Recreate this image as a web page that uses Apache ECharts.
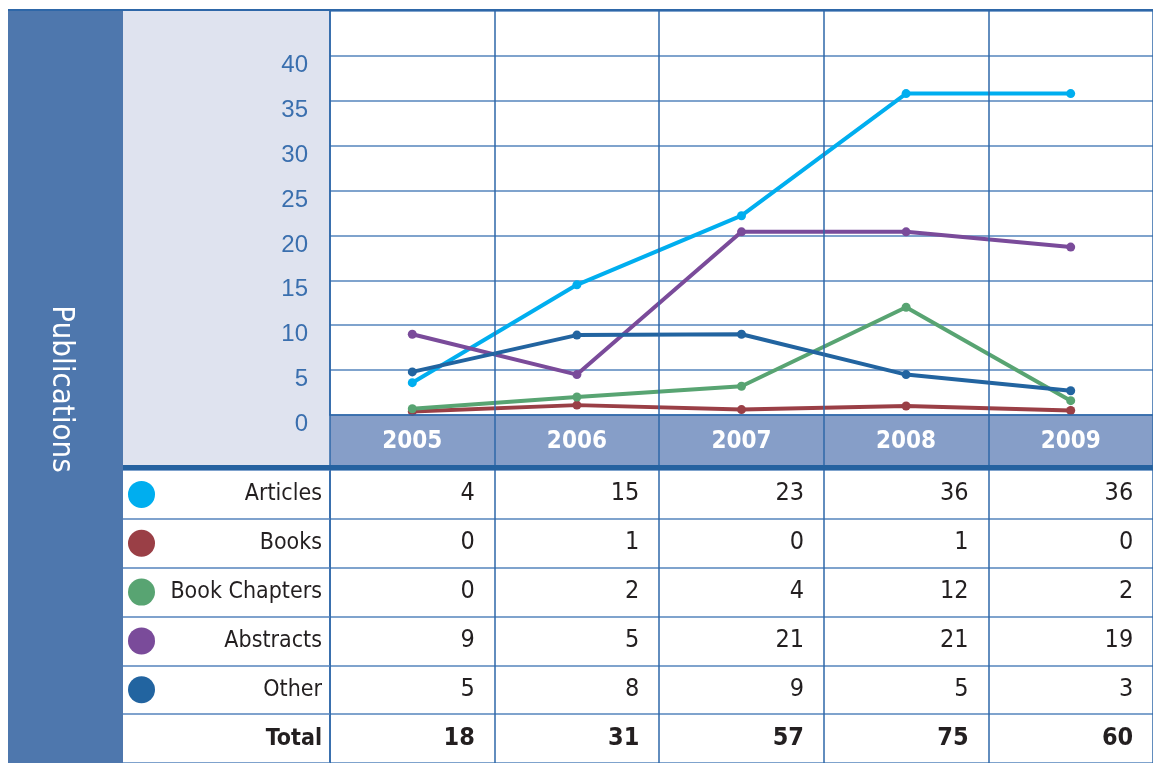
<!DOCTYPE html>
<html>
<head>
<meta charset="utf-8">
<script src="https://cdn.jsdelivr.net/npm/echarts@6/dist/echarts.min.js"></script>
<style>
  html, body { margin: 0; padding: 0; background: #fff; }
  #chart { width: 1153px; height: 763px; }
</style>
</head>
<body>
<div id="chart"></div>
<script>
// years along the top of the table
var years = ['2005', '2006', '2007', '2008', '2009'];
var rowNames = ['Articles', 'Books', 'Book Chapters', 'Abstracts', 'Other'];
var rowColors = ['#00aeef', '#9a3f46', '#58a472', '#7a4b9a', '#2264a0'];

// values as plotted in the line chart
var plotArticles = [3.6, 14.5, 22.2, 35.8, 35.8];
var plotBooks = [0.4, 1.1, 0.6, 1.0, 0.5];
var plotChapters = [0.7, 2.0, 3.2, 12.0, 1.6];
var plotAbstracts = [9.0, 4.5, 20.4, 20.4, 18.7];
var plotOther = [4.8, 8.9, 9.0, 4.5, 2.7];

// values printed in the table
var tabArticles = [4, 15, 23, 36, 36];
var tabBooks = [0, 1, 0, 1, 0];
var tabChapters = [0, 2, 4, 12, 2];
var tabAbstracts = [9, 5, 21, 21, 19];
var tabOther = [5, 8, 9, 5, 3];
var totals = [18, 31, 57, 75, 60];

var yTicks = [0, 45, 5]; // min, max, step

var FONT = "'Liberation Sans Narrow', 'DejaVu Sans Condensed', 'Roboto Condensed', 'Arial Narrow', sans-serif";
var gridBlue = '#2e67a8';
var lineBlue = '#5584bd';

var plotRows = [plotArticles, plotBooks, plotChapters, plotAbstracts, plotOther];
var tabRows = [tabArticles, tabBooks, tabChapters, tabAbstracts, tabOther];

var myChart = echarts.init(document.getElementById('chart'));

// cells of the table
var cellData = [];
tabRows.forEach(function (row, r) {
    row.forEach(function (v, c) {
        cellData.push([c, r, v]);
    });
});
var totalData = totals.map(function (v, c) { return [c, 5, v]; });

// rich styles for the row labels (coloured dot + name)
var rich = {
    e: { width: 27, height: 27 },
    n: { width: 167, align: 'right', fontSize: 23, fontFamily: FONT, color: '#231f20' },
    t: { width: 167, align: 'right', fontSize: 23, fontFamily: FONT, color: '#231f20', fontWeight: 'bold' }
};
rowColors.forEach(function (col, i) {
    rich['c' + i] = { width: 27, height: 27, borderRadius: 13.5, backgroundColor: col };
});

var lineSeries = rowNames.map(function (name, i) {
    return {
        name: name,
        type: 'line',
        xAxisIndex: 0,
        yAxisIndex: 0,
        data: plotRows[i],
        symbol: 'circle',
        symbolSize: 9,
        lineStyle: { width: 4, color: rowColors[i] },
        itemStyle: { color: rowColors[i] },
        z: 5
    };
});

var cellLabel = {
    show: true, position: [63, 0], align: 'right', verticalAlign: 'middle',
    fontSize: 25, fontFamily: FONT, color: '#231f20',
    formatter: function (p) { return String(p.value[2]); }
};

var option = {
    animation: false,
    backgroundColor: '#fff',
    graphic: [
        // left band with the title
        { type: 'rect', left: 8, top: 10, shape: { width: 115, height: 753 }, style: { fill: '#4e77ad' }, z: -10 },
        // pale panel behind the y labels
        { type: 'rect', left: 123, top: 10, shape: { width: 207, height: 456 }, style: { fill: '#dfe3ef' }, z: -10 },
        { type: 'text', x: 61, y: 389, rotation: -Math.PI / 2,
          style: { text: 'Publications', fill: '#fff', font: '31px ' + FONT, align: 'center', verticalAlign: 'middle' }, z: 10 },
        // top rule and the heavy rule under the year header
        { type: 'rect', left: 8, top: 9, shape: { width: 1145, height: 2 }, style: { fill: gridBlue }, z: 20 },
        { type: 'rect', left: 123, top: 465, shape: { width: 1030, height: 5 }, style: { fill: '#2562a0' }, z: 20 }
    ],
    grid: [
        { left: 330, right: 0, top: 11, height: 404 },
        { left: 330, right: 0, top: 415, height: 50, show: true, backgroundColor: '#869ec8', borderWidth: 0 },
        { left: 330, right: 0, top: 470, height: 295 }
    ],
    xAxis: [
        {
            gridIndex: 0, type: 'category', data: years, boundaryGap: true,
            axisLine: { show: true, lineStyle: { color: gridBlue, width: 1.5 } },
            axisTick: { show: false },
            axisLabel: { color: '#fff', fontSize: 24, fontWeight: 'bold', fontFamily: FONT, margin: 15 },
            splitLine: { show: true, lineStyle: { color: gridBlue, width: 1.5 } },
            z: 10
        },
        {
            gridIndex: 1, type: 'category', data: years, boundaryGap: true,
            axisLine: { show: false }, axisTick: { show: false }, axisLabel: { show: false },
            splitLine: { show: true, lineStyle: { color: gridBlue, width: 1.5 } }
        },
        {
            gridIndex: 2, type: 'category', data: years, boundaryGap: true, position: 'top',
            axisLine: { show: false }, axisTick: { show: false }, axisLabel: { show: false },
            splitLine: { show: true, lineStyle: { color: gridBlue, width: 1.5 } }
        }
    ],
    yAxis: [
        {
            gridIndex: 0, type: 'value', min: yTicks[0], max: yTicks[1], interval: yTicks[2],
            axisLine: { show: true, lineStyle: { color: gridBlue, width: 1.5 } },
            axisTick: { show: false },
            axisLabel: {
                color: '#3a6fae', fontSize: 24, fontFamily: "'Liberation Sans', Arial, sans-serif", margin: 22,
                verticalAlign: 'top', lineHeight: 19,
                formatter: function (v) { return v >= yTicks[1] ? '' : String(v); }
            },
            splitLine: { show: true, lineStyle: { color: lineBlue, width: 1.5 } }
        },
        { gridIndex: 1, type: 'value', show: false },
        {
            gridIndex: 2, type: 'category', inverse: true, data: rowNames.concat(['Total']),
            axisLine: { show: true, lineStyle: { color: gridBlue, width: 1.5 } },
            axisTick: { show: true, length: 207, lineStyle: { color: lineBlue, width: 1.5 } },
            splitLine: { show: true, lineStyle: { color: lineBlue, width: 1.5 } },
            axisLabel: {
                margin: 8,
                formatter: function (v, i) {
                    if (i < rowNames.length) return '{c' + i + '|}{n|' + v + '}';
                    return '{e|}{t|' + v + '}';
                },
                rich: rich
            }
        }
    ],
    series: lineSeries.concat([
        {
            type: 'scatter', xAxisIndex: 2, yAxisIndex: 2, data: cellData,
            symbolSize: 1, itemStyle: { color: 'rgba(0,0,0,0)', opacity: 1 },
            label: cellLabel
        },
        {
            type: 'scatter', xAxisIndex: 2, yAxisIndex: 2, data: totalData,
            symbolSize: 1, itemStyle: { color: 'rgba(0,0,0,0)', opacity: 1 },
            label: Object.assign({}, cellLabel, { fontWeight: 'bold' })
        }
    ])
};

myChart.setOption(option);
</script>
</body>
</html>
